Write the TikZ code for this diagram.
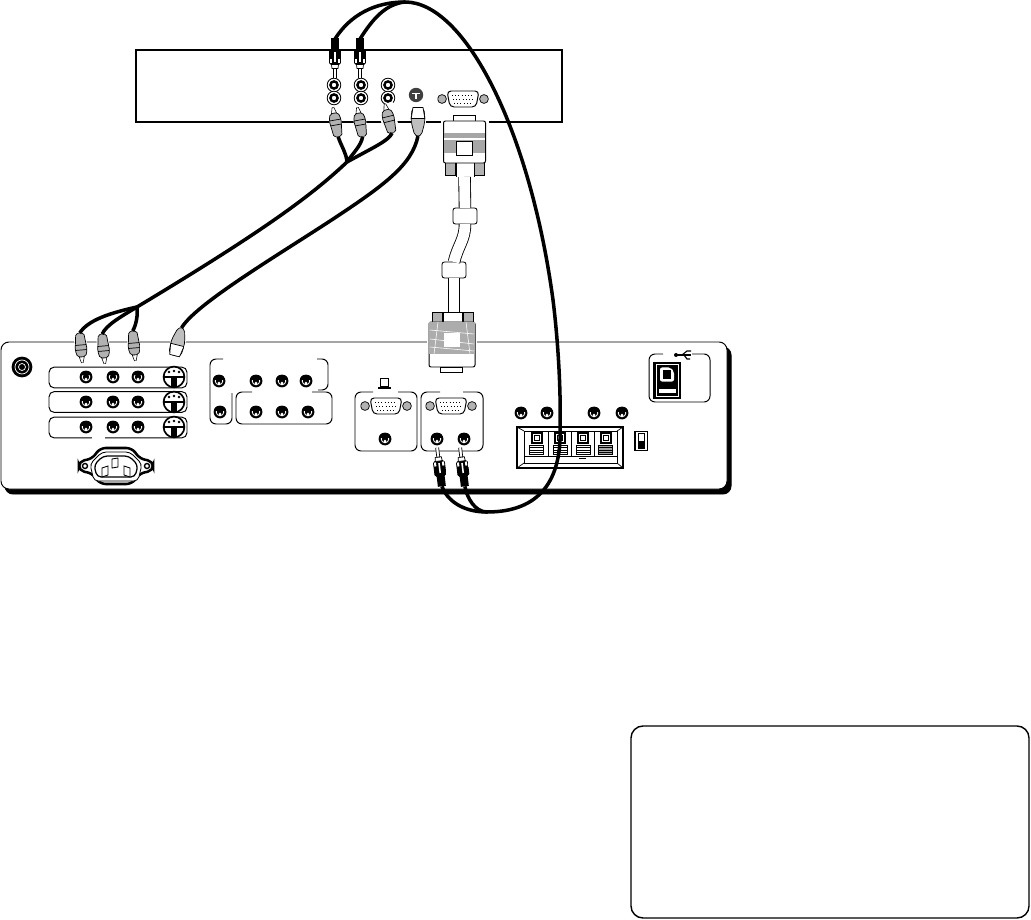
\documentclass[tikz,border=0pt]{standalone}
\usepackage{xcolor}
\usepackage{tikz}
\usetikzlibrary{arrows.meta,positioning,shapes.geometric,calc}

\begin{document}
\begin{tikzpicture}[
    x=0.25mm,y=-0.25mm,
    every node/.style={inner sep=0pt,outer sep=0pt},
    cable/.style={draw=black,line width=2.5pt},
    cord/.style ={draw=black,line width=0.6pt,double=white,double distance=2.7mm},
    playerbox/.style={rectangle,draw=black,line width=2.1pt,
                    minimum width=106.5mm,minimum height=18mm},
    rearpanel/.style={rectangle,rounded corners=2mm,draw=black,fill=white,line width=0.7pt,
                    minimum width=181.5mm,minimum height=36.75mm},
    notebox/.style={rectangle,rounded corners=3mm,draw=black,line width=1pt,
                    minimum width=99.5mm,minimum height=48mm},
    avbar/.style  ={rectangle,rounded corners=1.3mm,draw=black,line width=0.7pt,
                    minimum width=34.5mm,minimum height=5.2mm},
    jack/.style   ={circle,fill=black,minimum size=3.2mm,
                    path picture={
                      \draw[white,line width=0.6pt] (0,0) circle (3.8);
                      \fill[black] (-6,-6) rectangle (6,-1.5);
                      \fill[white] (0,2.2) circle (1.5);}},
    ringjack/.style={circle,draw=black,line width=0.6pt,fill=white,minimum size=3.4mm,
                    path picture={
                      \draw[black,line width=1.7pt] (0,0) circle (3.6);}},
    coax/.style   ={circle,fill=black,minimum size=5.2mm,
                    path picture={
                      \draw[white,line width=0.5pt] (0,0) circle (7);
                      \draw[white,line width=0.5pt] (0,0) circle (3.5);}},
    svideoin/.style={circle,draw=black,line width=1.2pt,fill=white,minimum size=5.2mm,
                    path picture={
                      \fill[black] (-11,-1.2) rectangle (11,1);
                      \fill[black] (-2.6,0) rectangle (2.6,11);
                      \fill[black] (-5,-5) circle (1.3);
                      \fill[black] (5,-5) circle (1.3);
                      \fill[black] (0,-6) circle (1.3);}},
    svideotop/.style={circle,fill=black!75,minimum size=3.6mm,
                    path picture={
                      \fill[white] (-4,-1.5) rectangle (4,-0.5);
                      \fill[white] (-0.6,-1) rectangle (0.6,4);}},
    vgasocket/.style={rectangle,minimum width=12.75mm,minimum height=4.6mm,
                    path picture={
                      \draw[fill=gray!60,line width=0.5pt] (-21,0) circle (4.4);
                      \draw[fill=gray!60,line width=0.5pt] (21,0) circle (4.4);
                      \draw[fill=white,rounded corners=1mm,line width=0.7pt]
                        (-16,-8) -- (16,-8) -- (13,8) -- (-13,8) -- cycle;
                      \draw[dotted,line width=0.3pt] (-11,-4) -- (11,-4);
                      \draw[dotted,line width=0.3pt] (-10,0) -- (10,0);
                      \draw[dotted,line width=0.3pt] (-9,4) -- (9,4);}},
    rcaplug/.style={rectangle,minimum width=3.1mm,minimum height=9.75mm,
                    path picture={
                      \fill[black] (-4,-20) rectangle (4,-9);
                      \draw[fill=black,line width=0.6pt,rounded corners=0.4mm]
                        (-5.5,-9) rectangle (5.5,6);
                      \fill[white] (-0.8,-6) rectangle (0.8,4);
                      \fill[white] (-5,1) rectangle (-3,5);
                      \fill[white] (3,1) rectangle (5,5);
                      \draw[fill=white,line width=0.5pt] (-3.5,6) -- (3.5,6) -- (3,10) -- (-3,10) -- cycle;
                      \draw[fill=white,line width=0.5pt] (-1.5,10) rectangle (1.5,20);}},
    grayplug/.style={rectangle,fill=white,minimum width=3.1mm,minimum height=7.5mm,
                    path picture={
                      \draw[fill=gray!60,line width=0.5pt,rounded corners=0.5mm]
                        (-4,-15) -- (4,-15) -- (6,2) -- (4,9) -- (-4,9) -- (-6,2) -- cycle;
                      \draw[line width=0.5pt] (-5.5,-3) -- (5.5,-3);
                      \draw[line width=0.5pt] (-5.5,2) -- (5.5,2);
                      \draw[fill=white,line width=0.4pt] (-2.5,9) -- (2.5,9) -- (0.8,15) -- (-0.8,15) -- cycle;}},
    svplug/.style ={rectangle,fill=white,minimum width=3.75mm,minimum height=7.25mm,
                    path picture={
                      \draw[fill=gray!50,line width=0.5pt,rounded corners=1mm]
                        (-3,-15) -- (3,-15) -- (7,0) -- (6,14) -- (-6,14) -- (-7,0) -- cycle;
                      \draw[fill=white,line width=0.5pt] (-6.8,3) -- (6.8,3) -- (5,14) -- (-5,14) -- cycle;}},
    vgaupperend/.style={rectangle,fill=white,minimum width=12mm,minimum height=15.5mm,
                    path picture={
                      \draw[fill=white,line width=0.6pt] (-11,-31) rectangle (11,-25);
                      \draw[fill=gray!60,line width=0.6pt] (-19,14) rectangle (-9,29);
                      \draw[fill=gray!60,line width=0.6pt] (10,14) rectangle (20,29);
                      \draw[fill=white,line width=0.6pt] (-8,15) rectangle (10,31);
                      \draw[fill=white,line width=0.7pt,rounded corners=0.5mm] (-21,-25) rectangle (21,17);
                      \fill[gray!70] (-20.6,-13) rectangle (20.6,7);
                      \fill[white] (-20.6,-7.5) rectangle (20.6,-6);
                      \draw[fill=white,line width=0.5pt] (-8,-5) rectangle (8,9);}},
    vgalowerend/.style={rectangle,fill=white,minimum width=12.5mm,minimum height=15mm,
                    path picture={
                      \draw[fill=white,line width=0.6pt] (-12,25) rectangle (10,30);
                      \draw[fill=gray!60,line width=0.6pt] (-20,-30) rectangle (-10,-17);
                      \draw[fill=gray!60,line width=0.6pt] (11,-30) rectangle (21,-17);
                      \draw[fill=white,line width=0.6pt] (-9,-30) rectangle (10,-20);
                      \draw[fill=white,line width=0.7pt,rounded corners=0.5mm] (-23,-20) rectangle (23,25);
                      \fill[gray!65] (-22.6,-19.6) rectangle (22.6,12);
                      \draw[white,line width=0.4pt] (-22,-12) -- (22,-8);
                      \draw[white,line width=0.4pt] (-22,-3) -- (22,2);
                      \draw[white,line width=0.4pt] (-22,5) -- (22,9);
                      \draw[white,line width=0.4pt] (-14,-20) -- (-18,12);
                      \draw[white,line width=0.4pt] (14,-20) -- (18,12);
                      \fill[white] (-8,-9) rectangle (8,5);}},
    fer/.style    ={rectangle,rounded corners=0.6mm,draw=black,fill=white,line width=0.6pt,
                    minimum width=6mm,minimum height=4mm},
    spkpost/.style={rectangle,draw=black,line width=1pt,fill=white,minimum size=2.5mm,
                    path picture={\draw[line width=0.6pt] (-2.5,-2.5) rectangle (2.5,2.5);}},
    spkstripe/.style={rectangle,draw=black,line width=0.4pt,fill=white,
                    minimum width=3.5mm,minimum height=2.3mm,
                    path picture={
                      \draw[line width=0.5pt] (-7,-2.3) -- (7,-2.3);
                      \draw[line width=0.5pt] (-7,0) -- (7,0);
                      \draw[line width=0.5pt] (-7,2.3) -- (7,2.3);}},
    slider/.style ={rectangle,draw=black,line width=1pt,minimum width=3.1mm,minimum height=4.8mm,
                    path picture={
                      \draw[line width=0.5pt] (-3,-7.5) rectangle (3,7.5);
                      \fill[black] (-3,0) rectangle (3,7.5);}},
    usbblock/.style={rectangle,fill=black,minimum width=7.1mm,minimum height=9.2mm,
                    path picture={
                      \draw[white,line width=0.4pt] (-11,-16) rectangle (11,16);
                      \fill[white,rounded corners=0.5mm] (-7,-13) -- (3.5,-13) -- (7,-9) -- (7,1) -- (-7,1) -- cycle;
                      \fill[black] (-4,-10) rectangle (4,-2);
                      \fill[white] (-8.5,8) rectangle (8.5,12);}},
    panelline/.style={draw=black,line width=0.7pt,rounded corners=1.5mm},
  ]
  \useasboundingbox (0,0) rectangle (1031,920);

  % Top: player with its row of sockets
  \node[playerbox] (player) at (349,86) {};
  \node[ringjack] (ya) at (334,85) {};
  \node[ringjack] (yb) at (361,85) {};
  \node[ringjack] (yc) at (388,85) {};
  \node[ringjack] (za) at (334,98) {};
  \node[ringjack] (zb) at (361,98) {};
  \node[ringjack] (zc) at (388,98) {};
  \node[svideotop] (svtop) at (416,95) {};
  \node[vgasocket] (vgatop) at (463,99) {};

  % Bottom right: empty note
  \node[notebox] (note) at (830,822) {};

  % Rear of the receiver, with its shadow
  \node[rearpanel,fill=black] (rearshadow) at (368,420.5) {};
  \node[rearpanel] (rear) at (364,415.5) {};
  \node[coax] (ant) at (22,367) {};

  % Left: three input bars
  \node[avbar] (barone)   at (118,377.5) {};
  \node[avbar] (bartwo)   at (118,402) {};
  \node[avbar] (barthree) at (118,427.5) {};
  \draw[white,line width=1.2pt] (92,438) -- (105,438);
  \node[jack] (ia) at (86,377) {};
  \node[jack] (ib) at (113,377) {};
  \node[jack] (ic) at (138,377) {};
  \node[svideoin] (id) at (174,377) {};
  \node[jack] (ja) at (86,402) {};
  \node[jack] (jb) at (113,402) {};
  \node[jack] (jc) at (138,402) {};
  \node[svideoin] (jd) at (174,402) {};
  \node[jack] (ka) at (86,427) {};
  \node[jack] (kb) at (113,427) {};
  \node[jack] (kc) at (138,427) {};
  \node[svideoin] (kd) at (174,427) {};

  % Power inlet
  \draw[line width=1.8pt,fill=white,rounded corners=4pt]
    (79,461) -- (92,459) -- (100,448) -- (132,448) -- (140,459) -- (153,461)
    -- (153,471) -- (140,473) -- (132,484) -- (100,484) -- (92,473) -- (79,471) -- cycle;
  \draw[line width=1pt,fill=white] (85,466) circle (2.5);
  \draw[line width=1pt,fill=white] (147,466) circle (2.5);
  \draw[line width=0.6pt,rounded corners=3pt,fill=white]
    (102,452) -- (130,452) -- (142,464) -- (138,481) -- (94,481) -- (90,464) -- cycle;
  \draw[line width=0.9pt,rounded corners=3pt,fill=white]
    (103,456) -- (129,456) -- (138,465) -- (135,477) -- (97,477) -- (94,465) -- cycle;
  \draw[line width=0.6pt,fill=white] (112,459) -- (118,458) -- (118,467) -- (112,468) -- cycle;
  \draw[line width=0.6pt,fill=white] (102,468) -- (108,466) -- (108,475) -- (102,477) -- cycle;
  \draw[line width=0.6pt,fill=white] (124,466) -- (130,468) -- (130,477) -- (124,475) -- cycle;

  % Component groups
  \draw[panelline] (223,359) -- (210,359) -- (210,424) -- (232,424) -- (232,393);
  \draw[panelline] (317,359) -- (328,359) -- (328,390) -- (318,390);
  \draw[panelline] (252,392) -- (236,392) -- (236,424) -- (332,424) -- (332,392) -- (312,392);
  \node[jack] (la) at (219,381) {};
  \node[jack] (lb) at (256,381) {};
  \node[jack] (lc) at (282,381) {};
  \node[jack] (ld) at (306,381) {};
  \node[jack] (ma) at (220,412) {};
  \node[jack] (mb) at (256,412) {};
  \node[jack] (mc) at (282,412) {};
  \node[jack] (md) at (308,412) {};

  % Center: the two computer panels
  \draw[line width=0.7pt] (380,378) rectangle (388,386);
  \draw[line width=1.2pt] (378,388) -- (391,388);
  \draw[panelline] (373,392) -- (355,392) -- (355,451) -- (417,451) -- (417,392) -- (398,392);
  \draw[panelline] (440,392) -- (421,392) -- (421,451) -- (483,451) -- (483,392) -- (463,392);
  \node[vgasocket] (vgaa) at (386,406) {};
  \node[vgasocket] (vgab) at (451,406) {};
  \node[jack] (na) at (385,439) {};
  \node[jack] (nb) at (437,439) {};
  \node[jack] (nc) at (464,439) {};

  % Right: speaker outputs
  \node[jack] (oa) at (521,413) {};
  \node[jack] (ob) at (547,413) {};
  \node[jack] (oc) at (594,413) {};
  \node[jack] (od) at (622,413) {};
  \draw[line width=1pt] (517,427) rectangle (623,468);
  \draw[line width=0.6pt] (524,431) rectangle (617,463);
  \draw[line width=0.5pt] (517,427) -- (524,431);
  \draw[line width=0.5pt] (623,427) -- (617,431);
  \draw[line width=0.5pt] (517,468) -- (524,463);
  \draw[line width=0.5pt] (623,468) -- (617,463);
  \draw[line width=0.6pt] (524,456) -- (617,456);
  \draw[line width=0.6pt] (548,431) -- (548,456);
  \draw[line width=0.6pt] (571,431) -- (571,456);
  \draw[line width=0.6pt] (594,431) -- (594,456);
  \draw[line width=0.7pt] (579,458.5) -- (586,458.5);
  \node[spkpost] (pa) at (537,438) {};
  \node[spkpost] (pb) at (560,438) {};
  \node[spkpost] (pc) at (583,438) {};
  \node[spkpost] (pd) at (606,438) {};
  \node[spkstripe] (sa) at (536,450) {};
  \node[spkstripe] (sb) at (560,450) {};
  \node[spkstripe] (sc) at (583,450) {};
  \node[spkstripe,fill=gray!70] (sd) at (605,450) {};
  \node[slider] (switch) at (641,441) {};

  % Far right: USB
  \draw[panelline] (663,354) -- (649,354) -- (649,402) -- (710,402) -- (710,354) -- (692,354);
  \node[usbblock] (usb) at (667,380.5) {};
  \draw[line width=0.9pt] (677,355) -- (691,355);
  \fill (676,355) circle (2);
  \draw[line width=0.8pt] (682,355) -- (687,351) -- (691,351);
  \draw[line width=0.8pt] (684,355) -- (687,359) -- (690,359);

  % VGA lead between player and receiver
  \node[vgaupperend] (vgaup) at (464.5,146) {};
  \node[vgalowerend] (vgalow) at (452,342) {};
  \node[fer] (ferup)  at (465,216) {};
  \node[fer] (ferlow) at (454,270) {};
  \draw[cord] (vgaup.south) -- (ferup.north);
  \draw[cord] (ferup.south) .. controls (465,240) and (458,245) .. (ferlow.north);
  \draw[cord] (ferlow.south) -- ($(vgalow.north)+(2,0)$);

  % Plugs
  \node[rcaplug] (audiol) at (335,58.5) {};
  \node[rcaplug] (audior) at (360,58.5) {};
  \node[rcaplug,rotate=187] (inl) at (439.5,467) {};
  \node[rcaplug,rotate=187] (inr) at (462.5,467) {};
  \node[grayplug,rotate=190] (compa) at (335.5,122) {};
  \node[grayplug,rotate=190] (compb) at (360,122) {};
  \node[grayplug,rotate=194,minimum width=4mm] (compc) at (388.5,118.5) {};
  \node[svplug,rotate=180] (svup) at (418,121.5) {};
  \node[grayplug,rotate=5] (reara) at (81,348) {};
  \node[grayplug,rotate=5] (rearb) at (103.5,349) {};
  \node[grayplug,rotate=5] (rearc) at (134,346) {};
  \node[svplug,rotate=-14] (svdown) at (178,342) {};

  % Component cables, joined into one run
  \coordinate (splitup) at (347,162);
  \coordinate (splitlow) at (137,307);
  \draw[cable] (compa.north) .. controls (342,148) and (346,152) .. (splitup);
  \draw[cable] (compb.north) .. controls (361,146) and (353,153) .. (splitup);
  \draw[cable] (compc.north) .. controls (388,141) and (376,146) .. (splitup);
  \draw[cable] (splitup) .. controls (310,197) and (260,233) .. (splitlow);
  \draw[cable] (splitlow) .. controls (110,313) and (88,320) .. (reara.north);
  \draw[cable] (splitlow) .. controls (122,316) and (106,325) .. (rearb.north);
  \draw[cable] (splitlow) .. controls (138,316) and (136,325) .. (rearc.north);

  % S-video cable
  \draw[cable] (svup.north) .. controls (412,165) and (385,185) .. (327,223)
    .. controls (270,260) and (195,305) .. (svdown.north);

  % Audio loop over the right side
  \coordinate (looptop) at (405,2);
  \coordinate (loopbottom) at (487,512);
  \draw[cable] (audiol.north) .. controls (350,15) and (375,2) .. (looptop)
    .. controls (465,2) and (530,130) .. (553,300)
    .. controls (558,340) and (561,390) .. (560,427)
    .. controls (562,480) and (540,512) .. (loopbottom)
    .. controls (462,512) and (447,500) .. (inl.north);
  \draw[cable] (audior.north) .. controls (372,20) and (385,4) .. (looptop);
  \draw[cable] (loopbottom) .. controls (475,512) and (467,498) .. (inr.north);
\end{tikzpicture}
\end{document}
